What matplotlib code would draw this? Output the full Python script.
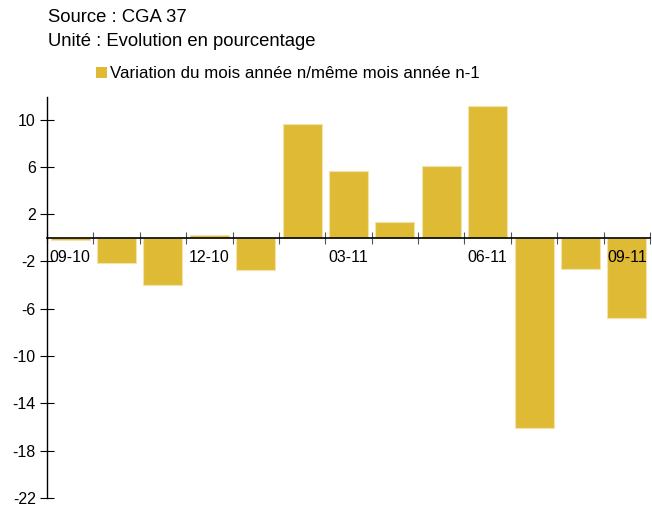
import numpy as np
import matplotlib
matplotlib.use("Agg")
import matplotlib.pyplot as plt
from matplotlib.patches import Patch

plt.rcParams['font.family'] = ['Liberation Sans', 'DejaVu Sans']

months = ["09-10", "10-10", "11-10", "12-10", "01-11", "02-11", "03-11",
          "04-11", "05-11", "06-11", "07-11", "08-11", "09-11"]
variation = [-0.2, -2.1, -4.0, 0.25, -2.75, 9.6, 5.65, 1.35, 6.1, 11.15, -16.1, -2.65, -6.8]
yticks = [-22, -18, -14, -10, -6, -2, 2, 6, 10]
label_every = 3

bar_color = "#DFBA35"

fig = plt.figure(figsize=(6.52, 5.09), dpi=100)
ax = fig.add_axes([0.072, 0.022, 0.925, 0.787])

x = np.arange(len(months))
ax.bar(x, variation, width=0.84, color=bar_color, edgecolor="#F3E3AA", linewidth=0.8)

ax.set_xlim(-0.5, len(months) - 0.5)
ax.set_ylim(-22, 11.9)

# y axis
ax.set_yticks(yticks)
ax.set_yticklabels([str(v) for v in yticks])
ax.tick_params(axis="y", direction="inout", length=10, width=0.8, labelsize=11.5,
               colors="black", pad=3)

# x axis drawn on the zero line
for s in ["top", "right"]:
    ax.spines[s].set_visible(False)
ax.spines["bottom"].set_position(("data", 0))
ax.spines["bottom"].set_linewidth(1.2)
ax.spines["left"].set_linewidth(1.0)

ax.set_xticks(np.arange(len(months) + 1) - 0.5)
ax.set_xticklabels([])
ax.tick_params(axis="x", which="major", direction="inout", length=8, width=0.8,
               color="#555555")
ax.set_xticks(x[::label_every], minor=True)
ax.set_xticklabels([months[i] for i in x[::label_every]], minor=True)
ax.tick_params(axis="x", which="minor", length=0, labelsize=11.5, pad=9)

fig.text(0.074, 0.966, "Source : CGA 37", fontsize=13.3, va="center")
fig.text(0.074, 0.919, "Unité : Evolution en pourcentage", fontsize=13.3, va="center")

handle = Patch(facecolor=bar_color, edgecolor="none")
fig.legend([handle], ["Variation du mois année n/même mois année n-1"],
           loc="center left", bbox_to_anchor=(0.148, 0.855), frameon=False,
           fontsize=12.2, handlelength=0.6, handleheight=0.6, handletextpad=0.2,
           borderpad=0.0, borderaxespad=0.0)

fig.savefig("out.png", dpi=100)
